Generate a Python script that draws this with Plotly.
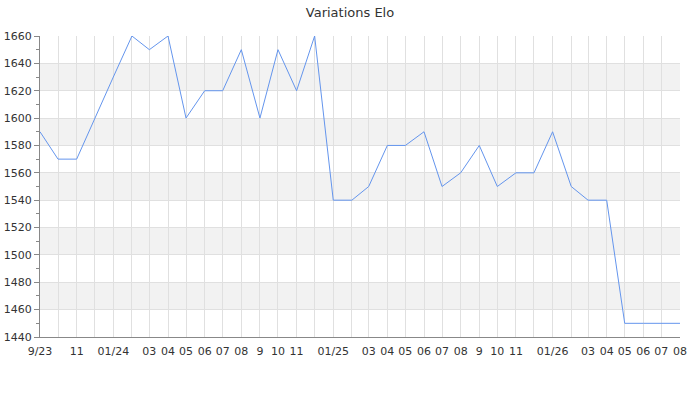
import pandas as pd
import plotly.graph_objects as go

months = pd.date_range('2023-09-01', '2026-08-01', freq='MS')
elo = [
    1590, 1570, 1570, 1600,
    1630, 1660, 1650, 1660, 1600, 1620, 1620, 1650, 1600, 1650, 1620, 1660,
    1540, 1540, 1550, 1580, 1580, 1590, 1550, 1560, 1580, 1550, 1560, 1560,
    1590, 1550, 1540, 1540, 1450, 1450, 1450, 1450,
]
month_labels = [
    '9/23', '', '11', '',
    '01/24', '', '03', '04', '05', '06', '07', '08', '9', '10', '11', '',
    '01/25', '', '03', '04', '05', '06', '07', '08', '9', '10', '11', '',
    '01/26', '', '03', '04', '05', '06', '07', '08',
]
y_ticks = list(range(1440, 1661, 20))

fig = go.Figure()
fig.add_trace(go.Scatter(x=months, y=elo, mode='lines',
                         line=dict(color='#6495ED', width=1), hoverinfo='x+y'))

# alternating grey bands
for i, y0 in enumerate(y_ticks[:-1]):
    if i % 2 == 1:
        fig.add_hrect(y0=y0, y1=y_ticks[i + 1], fillcolor='#f2f2f2',
                      line_width=0, layer='below')

fig.update_layout(
    title=dict(text='Variations Elo', x=0.5, y=0.97, xanchor='center', yanchor='middle',
               automargin=False, font=dict(size=13, color='#333')),
    width=700, height=400,
    margin=dict(l=40, r=20, t=36, b=63),
    plot_bgcolor='white', paper_bgcolor='white',
    font=dict(family='DejaVu Sans', size=11, color='#333'),
    showlegend=False,
)
fig.update_xaxes(
    type='date', range=[months[0], months[-1]], automargin=False,
    tickmode='array', tickvals=months, ticktext=month_labels,
    showgrid=True, gridcolor='#e0e0e0', gridwidth=1,
    showline=True, linecolor='#888', linewidth=1,
    ticks='', ticklabelstandoff=4,
)
fig.update_yaxes(
    range=[1440, 1660], tickmode='array', tickvals=y_ticks, automargin=False,
    showgrid=True, gridcolor='#e0e0e0', gridwidth=1,
    showline=True, linecolor='#888', linewidth=1,
    ticks='outside', ticklen=5, tickcolor='#888',
    minor=dict(dtick=10, ticks='outside', ticklen=3, tickcolor='#888', showgrid=False),
    zeroline=False,
)

# drop the default 8px page margin so the figure sits at the window's corner
fig.write_html('out.html', config={'displayModeBar': False},
               post_script="document.body.style.margin = '0';")
